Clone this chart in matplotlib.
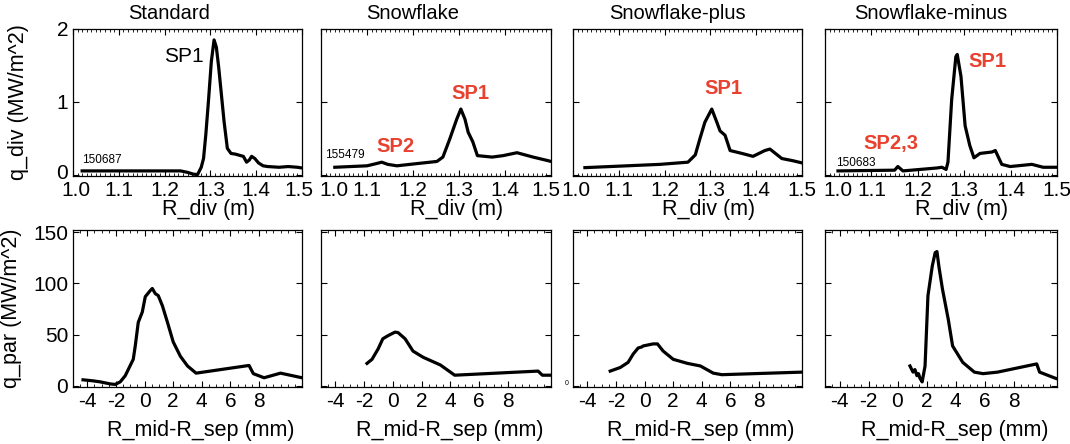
import matplotlib
matplotlib.use("Agg")
import matplotlib.pyplot as plt
from matplotlib.ticker import MultipleLocator
from matplotlib.transforms import ScaledTranslation

plt.rcParams['font.family'] = ['Liberation Sans', 'DejaVu Sans']
plt.rcParams['axes.unicode_minus'] = False

titles = ["Standard", "Snowflake", "Snowflake-plus", "Snowflake-minus"]
shots = ["150687", "155479", "", "150683"]

# divertor heat flux profiles (top row)
std_r = [1.02, 1.1, 1.2, 1.235, 1.25, 1.263, 1.272, 1.28, 1.285, 1.29, 1.296, 1.302, 1.308,
         1.313, 1.318, 1.324, 1.33, 1.337, 1.345, 1.355, 1.366, 1.372, 1.379, 1.385, 1.39,
         1.397, 1.405, 1.415, 1.425, 1.45, 1.47, 1.49, 1.5]
std_q = [0.05, 0.05, 0.05, 0.05, 0.03, 0.005, 0.0, 0.1, 0.22, 0.55, 1.03, 1.55, 1.85,
         1.75, 1.48, 1.1, 0.72, 0.36, 0.29, 0.28, 0.26, 0.25, 0.17, 0.2, 0.25,
         0.22, 0.16, 0.12, 0.11, 0.1, 0.11, 0.1, 0.09]
sf_r = [1.03, 1.1, 1.12, 1.132, 1.145, 1.165, 1.208, 1.252, 1.265, 1.28, 1.295, 1.304,
        1.313, 1.32, 1.33, 1.34, 1.372, 1.396, 1.426, 1.461, 1.494, 1.5]
sf_q = [0.1, 0.12, 0.15, 0.17, 0.14, 0.12, 0.15, 0.18, 0.24, 0.49, 0.76, 0.9,
        0.76, 0.58, 0.45, 0.26, 0.24, 0.26, 0.3, 0.24, 0.19, 0.18]
sfp_r = [1.026, 1.118, 1.19, 1.251, 1.267, 1.277, 1.288, 1.303, 1.314, 1.321, 1.332,
         1.343, 1.369, 1.393, 1.419, 1.43, 1.456, 1.48, 1.5]
sfp_q = [0.095, 0.12, 0.14, 0.17, 0.27, 0.49, 0.72, 0.9, 0.72, 0.6, 0.54,
         0.33, 0.29, 0.25, 0.33, 0.35, 0.22, 0.19, 0.16]
sfm_r = [1.028, 1.15, 1.157, 1.168, 1.241, 1.252, 1.261, 1.265, 1.273, 1.282, 1.285,
         1.293, 1.302, 1.312, 1.321, 1.334, 1.36, 1.367, 1.381, 1.399, 1.446, 1.47, 1.5]
sfm_q = [0.05, 0.06, 0.11, 0.05, 0.09, 0.1, 0.07, 0.17, 1.03, 1.62, 1.65,
         1.35, 0.67, 0.4, 0.23, 0.29, 0.31, 0.33, 0.14, 0.11, 0.14, 0.1, 0.1]

# upstream parallel heat flux (bottom row)
std_dr = [-4.3, -3.6, -3.1, -2.4, -2.05, -1.7, -1.35, -1.0, -0.79, -0.65, -0.44, -0.16,
          0.05, 0.4, 0.54, 0.75, 0.96, 1.25, 1.6, 2.0, 2.5, 3.0, 3.6, 7.3, 7.6, 8.35, 9.5, 11.0]
std_qp = [6, 5, 4, 2, 1.5, 4, 10, 20, 26, 39, 62, 72,
          87, 93, 95, 90, 88, 78, 62, 43, 29, 19.5, 12.5, 20, 12, 8, 12.5, 8]
sf_dr = [-1.8, -1.45, -1.03, -0.7, -0.34, 0.15, 0.36, 0.85, 1.4, 2.1, 3.3, 4.3, 10.1, 10.4, 11.0]
sf_qp = [22, 26, 36, 46, 49, 52.5, 52, 46, 34, 28, 20.5, 10.5, 14.5, 10.5, 10.5]
sfp_dr = [-2.4, -1.7, -1.15, -0.8, -0.45, -0.2, -0.1, 0.6, 0.9, 1.3, 2.0, 3.0, 3.9, 4.8, 5.4, 11.0]
sfp_qp = [14.5, 18, 23, 31, 37, 38, 39, 41, 41, 34, 26, 22, 19.5, 12.5, 11, 13.5]
sfm_dr = [0.86, 1.07, 1.2, 1.34, 1.45, 1.55, 1.7, 1.9, 2.1, 2.4, 2.6, 2.72, 2.86, 3.1,
          3.5, 3.8, 4.5, 5.3, 5.9, 6.9, 9.6, 9.8, 10.8, 11.0]
sfm_qp = [19.5, 13.5, 16, 10, 12, 7.5, 4, 19.5, 88, 117, 130, 131, 116, 94.5,
          65, 39, 23, 13.5, 12, 13.5, 21.5, 13.5, 8, 7]

top_data = [(std_r, std_q), (sf_r, sf_q), (sfp_r, sfp_q), (sfm_r, sfm_q)]
bot_data = [(std_dr, std_qp), (sf_dr, sf_qp), (sfp_dr, sfp_qp), (sfm_dr, sfm_qp)]

RED = '#e8412f'

fig = plt.figure(figsize=(10.7, 4.44), dpi=100)
W, H = 1070.0, 444.0
lefts = [73, 321, 573, 825]
widths = [229, 230, 229, 232]
title_x = [0.42, 0.40, 0.455, 0.457]
# nudges (pixels) for the first / last x tick label of the top row
first_dx = [3, 13, 3, 13]
last_dx = [-3, -5, 0, 0]


def style(ax, minor_x):
    ax.tick_params(which='both', direction='in', top=True, right=True, labelsize=15, pad=3.5)
    ax.tick_params(which='major', length=4, width=0.8)
    ax.tick_params(which='minor', length=2, width=0.6)
    ax.xaxis.set_minor_locator(MultipleLocator(minor_x))
    for s in ax.spines.values():
        s.set_linewidth(0.9)


def nudge(lab, dx, dy=0):
    lab.set_transform(lab.get_transform() + ScaledTranslation(dx / 100.0, dy / 100.0, fig.dpi_scale_trans))


for i in range(4):
    ax = fig.add_axes([lefts[i] / W, 1 - 176 / H, widths[i] / W, 147 / H])
    r, q = top_data[i]
    ax.plot(r, q, color='black', lw=2.3)
    ax.set_xlim(1.0, 1.5)
    ax.set_ylim(-0.02, 2.0)
    ax.set_xticks([1.0, 1.1, 1.2, 1.3, 1.4, 1.5])
    ax.set_yticks([0, 1, 2])
    style(ax, 0.01)
    labs = ax.get_xticklabels()
    nudge(labs[0], first_dx[i])
    nudge(labs[-1], last_dx[i])
    ax.set_title(titles[i], fontsize=14.5, x=title_x[i], pad=7)
    ax.set_xlabel("R_div (m)", fontsize=15.5)
    ax.xaxis.set_label_coords(0.59, -0.155, transform=ax.transAxes)
    ax.xaxis.label.set_va('top')
    if i == 0:
        ax.set_ylabel("q_div (MW/m^2)", fontsize=15.5)
        ax.yaxis.set_label_coords(-0.19, 0.5)
        nudge(ax.get_yticklabels()[0], 0, 3)
    else:
        ax.set_yticklabels([])
    if i == 0:
        ax.text(1.241, 1.62, "SP1", fontsize=15, ha='center', va='center')
        ax.text(1.064, 0.2, shots[i], fontsize=8.5, ha='center', va='center')
    elif i == 1:
        ax.text(1.324, 1.12, "SP1", fontsize=14.5, fontweight='bold', color=RED, ha='center', va='center')
        ax.text(1.161, 0.39, "SP2", fontsize=14.5, fontweight='bold', color=RED, ha='center', va='center')
        ax.text(1.052, 0.27, shots[i], fontsize=8.5, ha='center', va='center')
    elif i == 2:
        ax.text(1.3275, 1.18, "SP1", fontsize=14.5, fontweight='bold', color=RED, ha='center', va='center')
    else:
        ax.text(1.351, 1.56, "SP1", fontsize=14.5, fontweight='bold', color=RED, ha='center', va='center')
        ax.text(1.142, 0.42, "SP2,3", fontsize=14.5, fontweight='bold', color=RED, ha='center', va='center')
        ax.text(1.067, 0.16, shots[i], fontsize=8.5, ha='center', va='center')

for i in range(4):
    ax = fig.add_axes([lefts[i] / W, 1 - 387 / H, widths[i] / W, 157 / H])
    d, q = bot_data[i]
    ax.plot(d, q, color='black', lw=2.3)
    ax.set_xlim(-5, 11)
    ax.set_ylim(-1, 152)
    ax.set_xticks([-4, -2, 0, 2, 4, 6, 8])
    ax.set_yticks([0, 50, 100, 150])
    style(ax, 0.5)
    ax.set_xlabel("R_mid-R_sep (mm)", fontsize=15.5)
    ax.xaxis.set_label_coords(0.56, -0.21, transform=ax.transAxes)
    ax.xaxis.label.set_va('top')
    if i == 0:
        ax.set_ylabel("q_par (MW/m^2)", fontsize=15.5)
        ax.yaxis.set_label_coords(-0.224, 0.5)
    else:
        ax.set_yticklabels([])
    if i == 2:
        ax.text(-0.026, 0.02, "0", fontsize=5, ha='center', va='center', transform=ax.transAxes)

fig.savefig("out.png", dpi=100)
